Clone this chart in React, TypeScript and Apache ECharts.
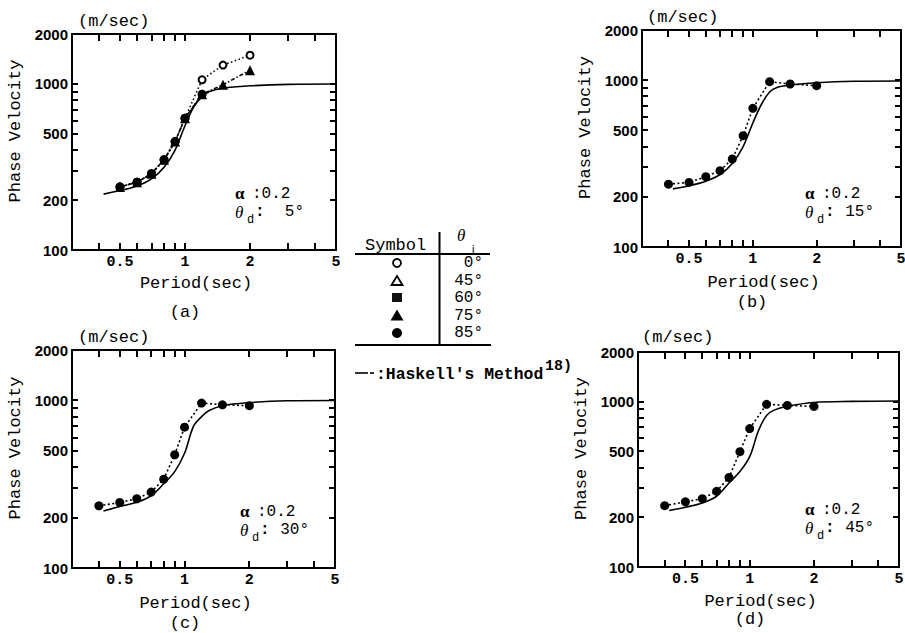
import React, { useEffect, useRef } from "react";
import * as echarts from "echarts";

// ---------- axis ticks / labels (in the data's own units) ----------
const X_MIN = 0.3;
const X_MAX = 5;
const Y_MIN = 100;
const Y_MAX = 2000;
const X_TICKS = [0.4, 0.5, 0.6, 0.7, 0.8, 0.9, 1, 2, 3, 4];
const X_LABELS = [0.5, 1, 2, 5];
const Y_TICKS = [200, 300, 400, 500, 600, 700, 800, 900, 1000];
const Y_LABELS = [100, 200, 500, 1000, 2000];

// ---------- data ----------
const periodsA = [0.5, 0.6, 0.7, 0.8, 0.9, 1.0, 1.2, 1.5, 2.0];
const a_theta0 = [240, 256, 288, 350, 450, 622, 1060, 1300, 1490];
const a_theta75 = [240, 256, 288, 350, 450, 622, 868, 990, 1210];
const a_theta85 = [240, 256, 288, 350, 450, 622, 868];

const periodsBCD = [0.4, 0.5, 0.6, 0.7, 0.8, 0.9, 1.0, 1.2, 1.5, 2.0];
const b_theta85 = [238, 244, 264, 287, 337, 465, 678, 980, 949, 927];
const c_theta85 = [235, 246, 259, 284, 339, 474, 693, 965, 942, 930];
const d_theta85 = [235, 248, 259, 287, 348, 499, 688, 965, 950, 937];

const haskellPeriods = [0.42, 0.5, 0.6, 0.7, 0.8, 0.9, 1.0, 1.1, 1.2, 1.3, 1.5, 2, 3, 5];
const haskellA = [217, 228, 243, 268, 315, 400, 560, 730, 840, 900, 945, 975, 995, 1000];
const haskellB = [223, 233, 248, 272, 317, 400, 554, 720, 850, 905, 935, 965, 985, 990];
const haskellC = [219, 233, 247, 270, 318, 376, 484, 700, 800, 870, 930, 970, 995, 1000];
const haskellD = [220, 230, 244, 268, 322, 378, 465, 670, 827, 890, 940, 990, 1005, 1010];

const panelTags = ["(a)", "(b)", "(c)", "(d)"];
const alphaText = ":0.2";
const thetaD = [" 5°", "15°", "30°", "45°"];
const legendAngles = ["0°", "45°", "60°", "75°", "85°"];

// ---------- layout (positions only) ----------
const LAYOUT = [
  { left: 72, top: 34, width: 264, height: 216, nameGap: 25, unitX: 78, unitY: 21, tagX: 185, tagY: 312, annX: 235, annY: 193 },
  { left: 642, top: 30, width: 259, height: 217, nameGap: 27, unitX: 647, unitY: 17, tagX: 752, tagY: 302, annX: 805, annY: 193 },
  { left: 72, top: 350, width: 263, height: 218, nameGap: 27, unitX: 78, unitY: 337, tagX: 185, tagY: 623, annX: 240, annY: 511 },
  { left: 638, top: 352, width: 261, height: 215, nameGap: 26, unitX: 642, unitY: 337, tagX: 750, tagY: 619, annX: 805, annY: 509 },
];

const MONO = '"Liberation Mono", "DejaVu Sans Mono", monospace';
const SANS = '"Liberation Sans", Arial, sans-serif';
const SERIF = '"Liberation Serif", "DejaVu Serif", serif';
const TICK_LEN = 7;

// log-decade coordinates are used for both axes (log-log chart)
const lg = (v: number) => Math.log10(v);
const unlg = (v: number) => String(Math.round(Math.pow(10, v) * 1000) / 1000);

function zip(xs: number[], ys: number[]) {
  return ys.map((y, i) => [lg(xs[i]), lg(y)]);
}

// inward frame ticks as thin filled rectangles (same linear mapping as the grid's log-decade axes)
function frameTicks(): any[] {
  const out: any[] = [];
  LAYOUT.forEach((L) => {
    const px = (v: number) => L.left + (L.width * (lg(v) - lg(X_MIN))) / (lg(X_MAX) - lg(X_MIN));
    const py = (v: number) => L.top + L.height - (L.height * (lg(v) - lg(Y_MIN))) / (lg(Y_MAX) - lg(Y_MIN));
    const bottom = L.top + L.height;
    const right = L.left + L.width;
    X_TICKS.forEach((v) => {
      const x = Math.round(px(v));
      out.push({ type: "rect", z: 100, shape: { x: x - 1, y: bottom - TICK_LEN, width: 2, height: TICK_LEN }, style: { fill: "#000" } });
      out.push({ type: "rect", z: 100, shape: { x: x - 1, y: L.top, width: 2, height: TICK_LEN }, style: { fill: "#000" } });
    });
    Y_TICKS.forEach((v) => {
      const y = Math.round(py(v));
      out.push({ type: "rect", z: 100, shape: { x: L.left, y: y - 1, width: TICK_LEN - 1, height: 2 }, style: { fill: "#000" } });
      out.push({ type: "rect", z: 100, shape: { x: right - TICK_LEN + 1, y: y - 1, width: TICK_LEN - 1, height: 2 }, style: { fill: "#000" } });
    });
  });
  return out;
}

function buildGraphic(): any[] {
  const graphic: any[] = [];
  LAYOUT.forEach((L, i) => {
    graphic.push({ type: "text", x: L.unitX, y: L.unitY, style: { text: "(m/sec)", fontFamily: MONO, fontSize: 17, fill: "#000", verticalAlign: "middle" } });
    graphic.push({ type: "text", x: L.tagX, y: L.tagY, style: { text: panelTags[i], fontFamily: MONO, fontSize: 17, fill: "#000", align: "center", verticalAlign: "middle" } });
    graphic.push({ type: "text", x: L.annX, y: L.annY, style: { text: "α", fontFamily: SERIF, fontSize: 17, fontWeight: "bold", fill: "#000", verticalAlign: "middle" } });
    graphic.push({ type: "text", x: L.annX + 17, y: L.annY + 1, style: { text: alphaText, fontFamily: MONO, fontSize: 16, fill: "#000", verticalAlign: "middle" } });
    graphic.push({ type: "text", x: L.annX, y: L.annY + 19, style: { text: "θ", fontFamily: SERIF, fontSize: 17, fontStyle: "italic", fill: "#000", verticalAlign: "middle" } });
    graphic.push({ type: "text", x: L.annX + 12, y: L.annY + 27, style: { text: "d", fontFamily: MONO, fontSize: 12, fill: "#000", verticalAlign: "middle" } });
    graphic.push({ type: "text", x: L.annX + 20, y: L.annY + 19, style: { text: ":", fontFamily: MONO, fontSize: 16, fontWeight: "bold", fill: "#000", verticalAlign: "middle" } });
    graphic.push({ type: "text", x: L.annX + 69, y: L.annY + 19, style: { text: thetaD[i], fontFamily: MONO, fontSize: 16, fill: "#000", align: "right", verticalAlign: "middle" } });
  });

  // legend table
  graphic.push({ type: "text", x: 365, y: 245, style: { text: "Symbol", fontFamily: MONO, fontSize: 17, fill: "#000", verticalAlign: "middle" } });
  graphic.push({ type: "text", x: 457, y: 235, style: { text: "θ", fontFamily: SERIF, fontSize: 17, fontStyle: "italic", fill: "#000", verticalAlign: "middle" } });
  graphic.push({ type: "text", x: 472, y: 249, style: { text: "i", fontFamily: SANS, fontSize: 11, fill: "#000", verticalAlign: "middle" } });
  graphic.push({ type: "line", shape: { x1: 355, y1: 254, x2: 490, y2: 254 }, style: { stroke: "#000", lineWidth: 2 } });
  graphic.push({ type: "line", shape: { x1: 439.5, y1: 232, x2: 439.5, y2: 345 }, style: { stroke: "#000", lineWidth: 2 } });
  graphic.push({ type: "line", shape: { x1: 355, y1: 345, x2: 491, y2: 345 }, style: { stroke: "#000", lineWidth: 2 } });
  const rowY = [263, 281, 297.5, 315.5, 333];
  graphic.push({ type: "circle", shape: { cx: 397, cy: rowY[0], r: 4 }, style: { fill: "#fff", stroke: "#000", lineWidth: 1.8 } });
  graphic.push({ type: "polygon", shape: { points: [[397, rowY[1] - 5], [391.5, rowY[1] + 4], [402.5, rowY[1] + 4]] }, style: { fill: "#fff", stroke: "#000", lineWidth: 1.8 } });
  graphic.push({ type: "rect", shape: { x: 392, y: rowY[2] - 4.5, width: 10, height: 9 }, style: { fill: "#111" } });
  graphic.push({ type: "polygon", shape: { points: [[397, rowY[3] - 6], [390.5, rowY[3] + 5], [403.5, rowY[3] + 5]] }, style: { fill: "#000" } });
  graphic.push({ type: "circle", shape: { cx: 397, cy: rowY[4], r: 5 }, style: { fill: "#000" } });
  legendAngles.forEach((t, k) => {
    graphic.push({ type: "text", x: 483, y: rowY[k], style: { text: t, fontFamily: MONO, fontSize: 16, fill: "#000", align: "right", verticalAlign: "middle" } });
  });
  graphic.push({ type: "line", shape: { x1: 355, y1: 373, x2: 368, y2: 373 }, style: { stroke: "#000", lineWidth: 1.6 } });
  graphic.push({ type: "line", shape: { x1: 370, y1: 373, x2: 374, y2: 373 }, style: { stroke: "#000", lineWidth: 1.6 } });
  graphic.push({ type: "text", x: 376, y: 374, style: { text: ":Haskell's Method", fontFamily: MONO, fontSize: 16.4, fontWeight: "bold", fill: "#000", verticalAlign: "middle" } });
  graphic.push({ type: "text", x: 545, y: 366, style: { text: "18)", fontFamily: MONO, fontSize: 15, fontWeight: "bold", fill: "#000", verticalAlign: "middle" } });
  return graphic.concat(frameTicks());
}

function buildOption() {
  const grid: any[] = [];
  const xAxis: any[] = [];
  const yAxis: any[] = [];
  const series: any[] = [];

  const axisLine = { show: true, onZero: false, lineStyle: { color: "#000", width: 2 } };

  LAYOUT.forEach((L, i) => {
    grid.push({ left: L.left, top: L.top, width: L.width, height: L.height, outerBoundsMode: "none", containLabel: false });
    const xBase = {
      type: "value", gridIndex: i, min: lg(X_MIN), max: lg(X_MAX),
      axisTick: { show: false },
      splitLine: { show: false }, minorTick: { show: false }, minorSplitLine: { show: false },
    };
    xAxis.push({
      ...xBase, position: "bottom", axisLine,
      name: "Period(sec)", nameLocation: "middle", nameGap: L.nameGap,
      nameTextStyle: { fontFamily: MONO, fontSize: 17, color: "#000", padding: [0, 16, 0, 0] },
      axisLabel: { show: true, customValues: X_LABELS.map(lg), formatter: unlg, fontFamily: MONO, fontSize: 15, fontWeight: "bold", color: "#000", margin: 5 },
    });
    xAxis.push({ ...xBase, position: "top", axisLine, axisLabel: { show: false } });

    const yBase = {
      type: "value", gridIndex: i, min: lg(Y_MIN), max: lg(Y_MAX),
      axisTick: { show: false },
      splitLine: { show: false }, minorTick: { show: false }, minorSplitLine: { show: false },
    };
    yAxis.push({
      ...yBase, position: "left", axisLine,
      name: "Phase Velocity", nameLocation: "middle", nameGap: 48,
      nameTextStyle: { fontFamily: MONO, fontSize: 17, color: "#000", padding: [0, 0, 0, 22] },
      axisLabel: { show: true, customValues: Y_LABELS.map(lg), formatter: unlg, fontFamily: SANS, fontSize: 15, fontWeight: "bold", color: "#000", margin: 4 },
    });
    yAxis.push({ ...yBase, position: "right", axisLine, axisLabel: { show: false } });
  });

  const hask = [haskellA, haskellB, haskellC, haskellD];
  hask.forEach((h, i) => {
    series.push({
      name: "Haskell's Method", type: "line", xAxisIndex: 2 * i, yAxisIndex: 2 * i,
      data: zip(haskellPeriods, h), showSymbol: false, symbol: "none", smooth: 0.35,
      lineStyle: { color: "#000", width: 1.6 }, z: 2,
    });
  });

  // panel a
  series.push({
    name: "0°", type: "line", xAxisIndex: 0, yAxisIndex: 0, data: zip(periodsA, a_theta0),
    symbol: "emptyCircle", symbolSize: 7, itemStyle: { color: "#000", borderWidth: 1.5 },
    lineStyle: { color: "#000", width: 1.6, type: [1.5, 2.5] }, z: 3,
  });
  series.push({
    name: "75°", type: "line", xAxisIndex: 0, yAxisIndex: 0, data: zip(periodsA, a_theta75),
    symbol: "triangle", symbolSize: 10, itemStyle: { color: "#000" },
    lineStyle: { color: "#000", width: 1.6, type: [4, 2, 1.5, 2] }, z: 4,
  });
  series.push({
    name: "85°", type: "line", xAxisIndex: 0, yAxisIndex: 0, data: zip(periodsA.slice(0, a_theta85.length), a_theta85),
    symbol: "circle", symbolSize: 9, itemStyle: { color: "#000" },
    lineStyle: { color: "#000", width: 1.6, type: [2, 2.5] }, z: 5,
  });

  [b_theta85, c_theta85, d_theta85].forEach((d, k) => {
    const i = k + 1;
    series.push({
      name: "85°", type: "line", xAxisIndex: 2 * i, yAxisIndex: 2 * i, data: zip(periodsBCD, d),
      symbol: "circle", symbolSize: 9, itemStyle: { color: "#000" },
      lineStyle: { color: "#000", width: 1.6, type: [2, 2.5] }, z: 5,
    });
  });

  return { animation: false, backgroundColor: "#fff", grid, xAxis, yAxis, series, graphic: buildGraphic() };
}

export default function App() {
  const ref = useRef<HTMLDivElement>(null);
  useEffect(() => {
    if (!ref.current) return;
    const chart = echarts.init(ref.current, undefined, { renderer: "svg" });
    chart.setOption(buildOption() as any);
    return () => chart.dispose();
  }, []);
  return <div ref={ref} style={{ position: "absolute", left: 0, top: 0, width: 905, height: 633 }} />;
}
